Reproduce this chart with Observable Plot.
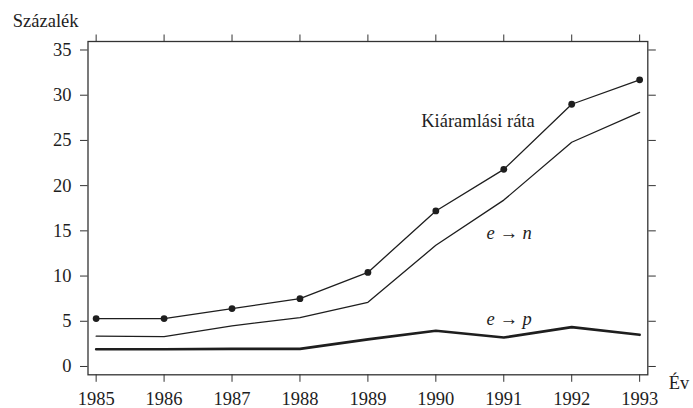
<!DOCTYPE html>
<html>
<head>
<meta charset="utf-8">
<script src="https://cdn.jsdelivr.net/npm/d3@7"></script>
<script src="https://cdn.jsdelivr.net/npm/@observablehq/plot@0.6"></script>
<style>
  html, body { margin: 0; padding: 0; background: #fff; }
</style>
</head>
<body>
<div id="chart"></div>
<script>
// ---- data ----
const years = [1985, 1986, 1987, 1988, 1989, 1990, 1991, 1992, 1993];
const kiaramlasiRata = [5.3, 5.3, 6.4, 7.5, 10.4, 17.2, 21.8, 29.0, 31.7];
const eToN = [3.35, 3.3, 4.5, 5.4, 7.1, 13.4, 18.4, 24.8, 28.1];
const eToP = [1.9, 1.9, 1.95, 1.95, 3.0, 3.95, 3.2, 4.35, 3.5];
const yTicks = [0, 5, 10, 15, 20, 25, 30, 35];

const seriesLabels = ["Kiáramlási ráta", "e → n", "e → p"];
const labelYear = [1990.62, 1991.08, 1991.08];
const labelValue = [27.16, 14.75, 5.27];

const yTitle = "Százalék";
const xTitle = "Év";

// ---- tables ----
const rowsK = years.map((y, i) => ({year: y, value: kiaramlasiRata[i]}));
const rowsN = years.map((y, i) => ({year: y, value: eToN[i]}));
const rowsP = years.map((y, i) => ({year: y, value: eToP[i]}));
const labels = seriesLabels.map((t, i) => ({text: t, year: labelYear[i], value: labelValue[i], italic: i > 0}));

const ink = "#1e1e1e";

const chart = Plot.plot({
  width: 693,
  height: 408,
  marginLeft: 87.5,
  marginRight: 45.7,
  marginTop: 41,
  marginBottom: 33.7,
  x: {domain: [1984.88, 1993.12]},
  y: {domain: [-0.92, 35.94]},
  style: {fontFamily: "'Liberation Serif', 'Times New Roman', serif", fontSize: "18.5px", color: ink, background: "#fff"},
  marks: [
    Plot.frame({stroke: "#333", strokeWidth: 1.3}),
    Plot.axisX({anchor: "bottom", ticks: years, tickFormat: d => String(d), tickSize: 7.5, tickPadding: 9.2, label: null, stroke: "#333"}),
    Plot.axisX({anchor: "top", ticks: years, tickFormat: () => "", tickSize: 7.5, label: null, stroke: "#333"}),
    Plot.axisY({anchor: "left", ticks: yTicks, tickSize: 7.5, tickPadding: 9, label: null, stroke: "#333"}),
    Plot.axisY({anchor: "right", ticks: yTicks, tickFormat: () => "", tickSize: 7.5, label: null, stroke: "#333"}),
    Plot.line(rowsK, {x: "year", y: "value", stroke: ink, strokeWidth: 1.3}),
    Plot.line(rowsN, {x: "year", y: "value", stroke: ink, strokeWidth: 1.3}),
    Plot.line(rowsP, {x: "year", y: "value", stroke: ink, strokeWidth: 2.6}),
    Plot.dot(rowsK, {x: "year", y: "value", r: 3.4, fill: ink, stroke: "none"}),
    Plot.text(labels.filter(d => !d.italic), {x: "year", y: "value", text: "text", fill: ink, textAnchor: "middle"}),
    Plot.text(labels.filter(d => d.italic), {x: "year", y: "value", text: "text", fill: ink, textAnchor: "middle", fontStyle: "italic"}),
    Plot.text([yTitle], {frameAnchor: "top-left", text: d => d, textAnchor: "start", lineAnchor: "middle", dx: -75.2, dy: -20.1, fill: ink}),
    Plot.text([xTitle], {frameAnchor: "bottom-right", text: d => d, textAnchor: "start", lineAnchor: "middle", dx: 21, dy: 8.3, fill: ink})
  ]
});

document.getElementById("chart").appendChild(chart);
</script>
</body>
</html>
